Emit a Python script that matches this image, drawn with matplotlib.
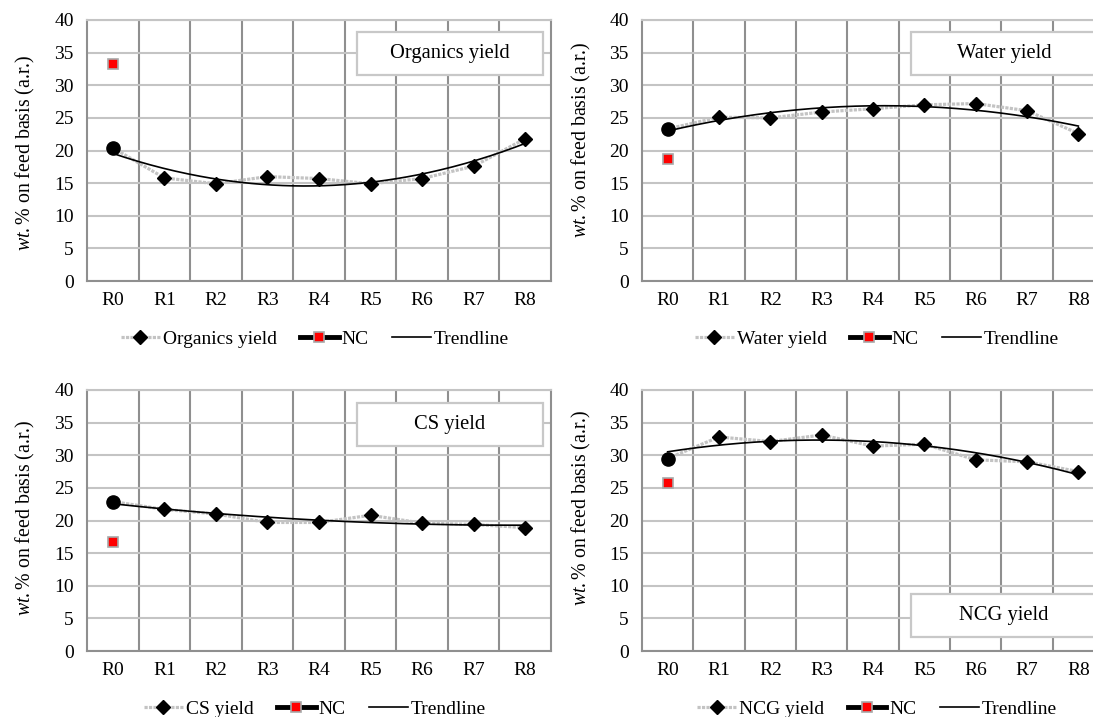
import numpy as np
import matplotlib
matplotlib.use("Agg")
import matplotlib.pyplot as plt
from matplotlib.lines import Line2D
from matplotlib.patches import Rectangle

plt.rcParams['font.family'] = ['Liberation Serif', 'DejaVu Serif']
plt.rcParams['mathtext.fontset'] = 'custom'
plt.rcParams['mathtext.rm'] = 'Liberation Serif'
plt.rcParams['mathtext.it'] = 'Liberation Serif:italic'

# data
runs = ["R0", "R1", "R2", "R3", "R4", "R5", "R6", "R7", "R8"]
organics = [20.4, 15.8, 14.9, 16.0, 15.7, 14.9, 15.7, 17.6, 21.8]
water = [23.3, 25.1, 25.0, 25.9, 26.4, 27.0, 27.2, 26.1, 22.6]
cs = [22.9, 21.7, 21.0, 19.7, 19.7, 20.8, 19.6, 19.4, 18.9]
ncg = [29.5, 32.8, 32.1, 33.1, 31.4, 31.7, 29.3, 29.0, 27.5]
nc_organics = 33.2
nc_water = 18.7
nc_cs = 16.7
nc_ncg = 25.7

W, H = 1093, 717
fig = plt.figure(figsize=(W / 100, H / 100), dpi=100)
fig.patch.set_facecolor("white")

VGRID = "#8f8f8f"
HGRID = "#c4c4c4"
SERIES = "#c3c3c3"
FS = 14


def px_axes(l, r, t, b):
    return fig.add_axes([l / W, 1 - b / H, (r - l) / W, (b - t) / H])


def label_box(l, r, t, b, txt):
    fig.add_artist(Rectangle((l / W, 1 - b / H), (r - l) / W, (b - t) / H,
                             transform=fig.transFigure, facecolor="white",
                             edgecolor="#c8c8c8", linewidth=1.6, zorder=5))
    fig.text((l + r) / 2 / W, 1 - (t + b) / 2 / H, txt, ha="center", va="center",
             fontsize=14.8, zorder=6)


def panel(rect, name, vals, nc, box, legend_pos, label_xy):
    ax = px_axes(*rect)
    x = np.arange(len(runs))

    # series (gray dotted line, diamonds, first point as circle)
    ax.plot(x, vals, color=SERIES, lw=2.3, ls=(0, (1, 0.4)), zorder=3)
    ax.plot(x[1:], vals[1:], ls="none", marker="D", ms=7.4, color="black", zorder=5)
    ax.plot(x[:1], vals[:1], ls="none", marker="o", ms=9.5, color="black", zorder=5)

    # NC point
    ax.plot([0], [nc], ls="none", marker="s", ms=7.8, mfc="red", mec="#a8a8a8",
            mew=1.2, zorder=5)

    # 2nd order trendline, as in the spreadsheet
    coef = np.polyfit(x, vals, 2)
    xs = np.linspace(0, len(runs) - 1, 200)
    ax.plot(xs, np.polyval(coef, xs), color="black", lw=1.2, zorder=4)

    ax.set_xlim(-0.5, len(runs) - 0.5)
    ax.set_ylim(0, 40)
    ax.set_yticks(range(0, 41, 5))
    ax.set_xticks(x)
    ax.set_xticklabels(runs)
    ax.set_xticks(x[:-1] + 0.5, minor=True)
    ax.tick_params(axis="both", which="both", length=0, labelsize=FS)
    ax.tick_params(axis="y", pad=9.5)
    ax.tick_params(axis="x", pad=8)
    ax.grid(True, axis="y", which="major", color=HGRID, lw=1.5, zorder=0)
    ax.grid(True, axis="x", which="minor", color=VGRID, lw=1.5, zorder=0)
    ax.set_axisbelow(True)
    for s in ["left", "right", "bottom"]:
        ax.spines[s].set_color(VGRID)
        ax.spines[s].set_linewidth(1.5)
    ax.spines["top"].set_color(HGRID)
    ax.spines["top"].set_linewidth(1.5)

    ax.set_ylabel(r"$\mathit{wt.\%}$ on feed basis (a.r.)", fontsize=14.3)
    ax.yaxis.set_label_coords(*label_xy)

    label_box(*box, name)

    handles = [
        Line2D([], [], color=SERIES, lw=2.3, ls=(0, (1, 0.4)), marker="D", ms=7.4,
               mfc="black", mec="black"),
        Line2D([], [], color="black", lw=3.5, marker="s", ms=7.8, mfc="red",
               mec="#a8a8a8", mew=1.2),
        Line2D([], [], color="black", lw=1.2),
    ]
    fig.legend(handles, [name, "NC", "Trendline"], loc="center",
               bbox_to_anchor=(legend_pos[0] / W, 1 - legend_pos[1] / H),
               ncol=3, frameon=False, fontsize=FS, handlelength=2.0,
               handletextpad=0.15, columnspacing=1.2, numpoints=1)
    return ax


panel((87, 551, 20, 281), "Organics yield", organics, nc_organics,
      (357, 543, 32, 75), (315, 339), (-0.108, 0.49))
panel((642, 1104, 20, 281), "Water yield", water, nc_water,
      (911, 1097, 32, 75), (877, 339), (-0.106, 0.54))
panel((87, 551, 390, 651), "CS yield", cs, nc_cs,
      (357, 543, 403, 446), (315, 709), (-0.108, 0.51))
panel((642, 1104, 390, 651), "NCG yield", ncg, nc_ncg,
      (911, 1097, 594, 637), (877, 709), (-0.106, 0.55))

fig.savefig("out.png", dpi=100, facecolor="white")
